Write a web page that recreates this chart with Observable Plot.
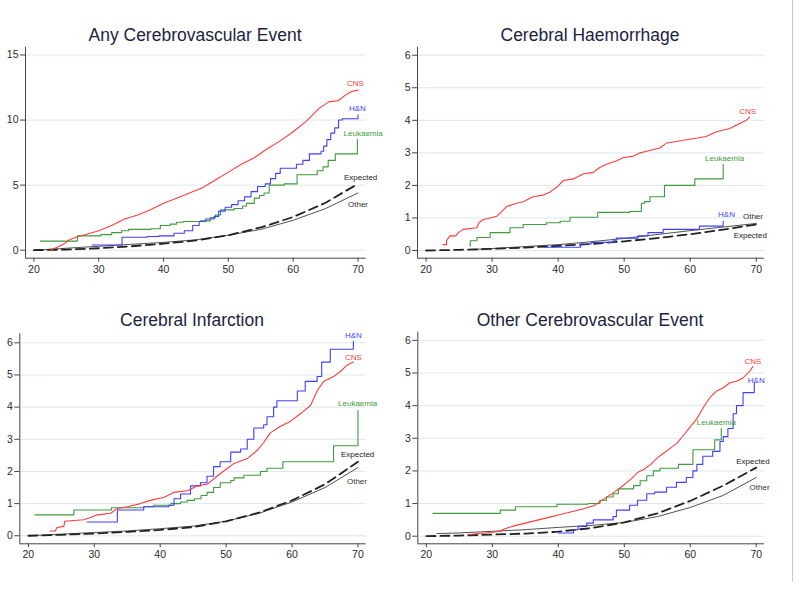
<!DOCTYPE html>
<html>
<head>
<meta charset="utf-8">
<script src="https://cdn.jsdelivr.net/npm/d3@7"></script>
<script src="https://cdn.jsdelivr.net/npm/@observablehq/plot@0.6"></script>
<style>
  html, body { margin: 0; padding: 0; background: #fff; }
  #wrap { position: relative; width: 800px; height: 589px; background: #fff; font-family: "Liberation Sans", Arial, sans-serif; }
  .ttl { position: absolute; width: 320px; text-align: center; font-size: 17.5px; line-height: 20px; color: #1c2340; white-space: nowrap; }
  .pnl { position: absolute; }
  #edge { position: absolute; left: 792px; top: 0; width: 1px; height: 582px; background: #c8c8c8; }
</style>
</head>
<body>
<div id="wrap">
  <div class="ttl" style="left:35px;top:25px">Any Cerebrovascular Event</div>
  <div class="ttl" style="left:430px;top:25px">Cerebral Haemorrhage</div>
  <div class="ttl" style="left:32px;top:310px">Cerebral Infarction</div>
  <div class="ttl" style="left:430px;top:310px">Other Cerebrovascular Event</div>
  <div class="pnl" id="p1" style="left:0px;top:40px"></div>
  <div class="pnl" id="p2" style="left:400px;top:40px"></div>
  <div class="pnl" id="p3" style="left:0px;top:325px"></div>
  <div class="pnl" id="p4" style="left:400px;top:325px"></div>
  <div id="edge"></div>
</div>
<script>
// ---------- data ----------
const seriesNames = ["CNS", "H&N", "Leukaemia", "Expected", "Other"];
const xTicks = [20, 30, 40, 50, 60, 70];
const yTicksAny = [0, 5, 10, 15];
const yTicksSub = [0, 1, 2, 3, 4, 5, 6];

// Any Cerebrovascular Event
const anyCNS = [[22.5,0],[23.5,0.2],[24.5,0.45],[25.5,0.8],[26.5,1.0],[28,1.2],[30,1.5],[32,1.9],[34,2.4],[36,2.7],[38,3.1],[40,3.6],[42,4.0],[44,4.4],[46,4.8],[48,5.4],[50,6.0],[52,6.6],[54,7.1],[56,7.8],[58,8.4],[60,9.1],[62,9.9],[64,10.9],[65.5,11.4],[67,11.5],[68,11.9],[69,12.2],[70,12.3]];
const anyHN = [[29,0.4],[33.6,1.0],[37.5,1.05],[39.3,1.1],[41.6,1.3],[43.2,1.5],[44.5,1.9],[45.5,2.2],[46.5,2.4],[47.8,2.6],[48.5,3.0],[49.5,3.3],[50.5,3.5],[51.5,3.8],[52.5,4.1],[53.5,4.5],[54.5,4.9],[55.7,5.1],[56.5,5.5],[57.3,5.9],[58,6.3],[60.5,6.6],[61.5,6.9],[62.5,7.4],[64.3,7.6],[64.7,8.0],[65.2,8.5],[65.8,9.0],[66.4,9.4],[67,10.0],[67.6,10.1],[69.9,10.1],[70,10.4]];
const anyLeuk = [[21,0.7],[26.7,1.1],[30.3,1.2],[32,1.35],[33.5,1.5],[34.6,1.6],[38,1.65],[39.5,1.9],[41,2.0],[42,2.15],[43,2.2],[45.7,2.25],[47.2,2.5],[48,2.7],[48.8,3.1],[50.9,3.2],[52.2,3.4],[52.8,3.6],[54,4.0],[54.8,4.2],[55.5,4.4],[56.3,5.0],[58.6,5.1],[60.6,5.8],[63.7,6.1],[64.6,6.4],[65.4,6.9],[66.5,7.4],[69.9,8.5]];
const anyExp = [[20,0],[25,0.05],[30,0.15],[35,0.3],[40,0.5],[45,0.75],[50,1.15],[55,1.75],[60,2.55],[65,3.65],[70,5.1]];
const anyOther = [[20,0],[25,0.15],[30,0.3],[35,0.45],[40,0.6],[45,0.8],[50,1.15],[55,1.6],[60,2.3],[65,3.2],[70,4.4]];
const anyLabels = [["CNS",69.6,12.8],["H&N",69.9,10.87],["Leukaemia",70.8,8.95],["Expected",70.4,5.56],["Other",70,3.49]];

// Cerebral Haemorrhage
const haemCNS = [[22.6,0.18],[23.1,0.18],[23.1,0.3],[23.6,0.45],[24.5,0.45],[24.9,0.55],[25.6,0.65],[27.7,0.7],[28,0.85],[28.7,0.95],[29.7,1.0],[30.7,1.05],[31.2,1.15],[32.2,1.35],[33.7,1.45],[34.7,1.5],[36.2,1.65],[37.7,1.7],[38.8,1.8],[39.8,1.95],[40.8,2.15],[42.3,2.2],[43.8,2.35],[45.3,2.4],[46.3,2.55],[47.3,2.65],[48.8,2.75],[49.8,2.85],[51.4,2.9],[52.4,3.0],[53.4,3.05],[55.4,3.15],[56.4,3.3],[57.9,3.35],[59.4,3.4],[60.9,3.45],[62.4,3.5],[64,3.65],[66,3.75],[67.5,3.9],[68.5,4.0],[69,4.1]];
const haemHN = [[38,0.1],[43.4,0.2],[45,0.25],[48.3,0.3],[48.8,0.38],[52.1,0.45],[53.6,0.55],[55.9,0.65],[61.4,0.75],[65,0.9]];
const haemLeuk = [[26.6,0.15],[26.7,0.3],[27.7,0.4],[29.7,0.55],[32.7,0.7],[34.7,0.8],[38.2,0.85],[40.3,0.9],[41.8,1.02],[46,1.17],[50.8,1.2],[52.6,1.45],[53.1,1.5],[53.9,1.65],[56.1,2.0],[60.7,2.2],[65,2.65]];
const haemExp = [[20,0],[25,0.02],[30,0.05],[35,0.09],[40,0.14],[45,0.2],[50,0.28],[55,0.38],[60,0.5],[65,0.64],[70,0.8]];
const haemOther = [[26.5,0.03],[30,0.06],[35,0.12],[40,0.18],[45,0.27],[50,0.37],[55,0.49],[60,0.61],[65,0.72],[70,0.83]];
const haemLabels = [["CNS",68.7,4.28],["Leukaemia",65.2,2.82],["H&N",65.5,1.1],["Other",69.5,1.04],["Expected",69.1,0.46]];

// Cerebral Infarction
const infCNS = [[23.3,0.15],[24.1,0.15],[24.3,0.25],[25.4,0.3],[25.5,0.45],[28.4,0.5],[29.2,0.55],[30.5,0.65],[32.5,0.7],[33.5,0.85],[35,0.9],[37,1.0],[38.5,1.1],[40.6,1.2],[42.1,1.35],[44.1,1.4],[45.6,1.55],[47.1,1.6],[48.6,1.85],[50.2,2.1],[51.2,2.25],[53.2,2.4],[54.7,2.65],[55.7,2.9],[56.7,3.2],[58.2,3.4],[59.7,3.55],[61.3,3.8],[62.8,4.05],[63.8,4.5],[64.8,4.8],[66.3,4.95],[67.3,5.1],[68.3,5.3],[69.3,5.4]];
const infHN = [[28.9,0.43],[33.5,0.8],[37.5,0.9],[41.3,0.95],[42.1,1.15],[43.1,1.3],[44.6,1.55],[46.1,1.65],[47.1,1.85],[48.1,2.15],[49.1,2.3],[50.7,2.6],[52.2,2.7],[53.2,3.0],[54.2,3.35],[55.7,3.45],[56.2,3.7],[57.2,4.0],[57.7,4.2],[60.8,4.5],[62,4.8],[63.8,4.95],[64.5,5.4],[65.8,5.8],[69.3,6.05]];
const infLeuk = [[21,0.65],[26.9,0.8],[32.6,0.87],[37.5,0.9],[39,0.95],[41.6,1.0],[43.1,1.05],[44.1,1.1],[45.2,1.15],[46.2,1.25],[47.1,1.35],[48.1,1.5],[49.1,1.65],[50.7,1.72],[51.2,1.8],[52.7,1.88],[55.2,2.0],[56.2,2.1],[58.6,2.3],[66.3,2.8],[70,3.9]];
const infExp = [[20,0],[25,0.03],[30,0.07],[35,0.12],[40,0.18],[45,0.27],[50,0.45],[55,0.72],[60,1.1],[65,1.6],[70,2.3]];
const infOther = [[20,0],[25,0.05],[30,0.1],[35,0.15],[40,0.22],[45,0.3],[50,0.45],[55,0.7],[60,1.05],[65,1.5],[70,2.12]];
const infLabels = [["H&N",69.3,6.23],["CNS",69.3,5.55],["Leukaemia",69.95,4.1],["Expected",69.95,2.53],["Other",69.85,1.7]];

// Other Cerebrovascular Event
const othCNS = [[26.3,0.05],[29,0.1],[31.3,0.15],[31.5,0.2],[33,0.3],[35,0.4],[37,0.5],[39,0.6],[40,0.65],[42,0.75],[44,0.85],[45.5,0.95],[47,1.15],[48.5,1.35],[49.5,1.5],[51,1.75],[52,1.95],[53,2.05],[54,2.2],[55,2.4],[56,2.55],[57,2.7],[58,2.85],[59,3.1],[60,3.35],[61,3.6],[62,3.95],[63,4.25],[64,4.45],[65,4.55],[66,4.7],[67,4.75],[68,4.85],[69,5.05],[69.5,5.2]];
const othHN = [[40,0.1],[42.3,0.2],[43,0.3],[44.3,0.4],[45.3,0.5],[48.3,0.6],[48.8,0.8],[50.8,0.95],[52,1.1],[53.4,1.3],[54.6,1.35],[56.4,1.5],[57.9,1.65],[59.4,1.8],[60.4,2.0],[61,2.2],[61.9,2.45],[63.4,2.6],[64.5,2.9],[65,3.05],[65.7,3.3],[66.5,3.75],[67,4.0],[68,4.4],[69.7,4.7]];
const othLeuk = [[21,0.7],[31.2,0.8],[33.5,0.9],[39.8,0.98],[44.5,1.0],[46.3,1.1],[47.3,1.2],[48.3,1.3],[49.1,1.45],[51.4,1.55],[52.4,1.7],[53.4,1.85],[54.4,2.0],[55.4,2.08],[58.2,2.2],[60.4,2.65],[63.7,2.95],[64.7,3.3]];
const othExp = [[20,0],[25,0.02],[30,0.05],[35,0.08],[40,0.14],[45,0.25],[50,0.42],[55,0.7],[60,1.08],[65,1.55],[70,2.1]];
const othOther = [[21.6,0.08],[25,0.1],[30,0.15],[35,0.2],[40,0.27],[45,0.33],[50,0.42],[55,0.6],[60,0.88],[65,1.25],[70,1.8]];
const othLabels = [["CNS",69.5,5.36],["H&N",70,4.78],["Leukaemia",63.95,3.47],["Expected",69.5,2.3],["Other",70.5,1.49]];

// ---------- styles ----------
const colors = {"CNS": "#ff3b3b", "H&N": "#3f3fff", "Leukaemia": "#3e9b3e", "Expected": "#222222", "Other": "#333333"};
const FONT = '"Liberation Sans", Arial, sans-serif';
const X_DOMAIN = [18.7, 71.25];

function panel(id, cfg) {
  const {width, height, mL, mR, mT, mB, yDomain, yTicks, cns, hn, leuk, exp, other, labels} = cfg;
  const X = d => d[0], Y = d => d[1];
  const chart = Plot.plot({
    width, height,
    marginLeft: mL, marginRight: mR, marginTop: mT, marginBottom: mB,
    x: {domain: X_DOMAIN},
    y: {domain: yDomain},
    style: {fontFamily: FONT, fontSize: "10.5px", color: "#2a2a2a", background: "transparent", overflow: "visible"},
    marks: [
      Plot.gridY(yTicks, {stroke: "#dce8ee", strokeOpacity: 1, strokeWidth: 1}),
      Plot.ruleX([X_DOMAIN[0]], {stroke: "#444", strokeWidth: 1}),
      Plot.ruleY([yDomain[0]], {stroke: "#444", strokeWidth: 1}),
      Plot.axisY(yTicks, {tickSize: 5, tickPadding: 2, stroke: "#444", fontSize: 10.5, label: null, tickFormat: d => String(d)}),
      Plot.axisX(xTicks, {tickSize: 4, tickPadding: 3, stroke: "#444", fontSize: 10.5, label: null, tickFormat: d => String(d)}),
      Plot.line(other, {x: X, y: Y, stroke: colors["Other"], strokeWidth: 1, strokeOpacity: 0.85}),
      Plot.line(exp, {x: X, y: Y, stroke: colors["Expected"], strokeWidth: 1.8, strokeDasharray: "9,5"}),
      Plot.line(leuk, {x: X, y: Y, stroke: colors["Leukaemia"], strokeWidth: 1.1, curve: "step-after"}),
      Plot.line(hn, {x: X, y: Y, stroke: colors["H&N"], strokeWidth: 1.1, curve: "step-after"}),
      Plot.line(cns, {x: X, y: Y, stroke: colors["CNS"], strokeWidth: 1.1}),
      Plot.text(labels, {x: d => d[1], y: d => d[2], text: d => d[0], fill: d => colors[d[0]], fontSize: 8, textAnchor: "middle", fontFamily: FONT})
    ]
  });
  document.getElementById(id).appendChild(chart);
}

panel("p1", {width: 380, height: 240, mL: 25, mR: 14.4, mT: 6.7, mB: 22.3, yDomain: [-0.615, 15.6], yTicks: yTicksAny,
  cns: anyCNS, hn: anyHN, leuk: anyLeuk, exp: anyExp, other: anyOther, labels: anyLabels});
panel("p2", {width: 380, height: 240, mL: 17, mR: 16, mT: 6.7, mB: 22.3, yDomain: [-0.237, 6.246], yTicks: yTicksSub,
  cns: haemCNS, hn: haemHN, leuk: haemLeuk, exp: haemExp, other: haemOther, labels: haemLabels});
panel("p3", {width: 380, height: 240, mL: 19.3, mR: 14.3, mT: 8.3, mB: 21.7, yDomain: [-0.25, 6.28], yTicks: yTicksSub,
  cns: infCNS, hn: infHN, leuk: infLeuk, exp: infExp, other: infOther, labels: infLabels});
panel("p4", {width: 380, height: 240, mL: 17.3, mR: 16, mT: 6.7, mB: 21.7, yDomain: [-0.233, 6.25], yTicks: yTicksSub,
  cns: othCNS, hn: othHN, leuk: othLeuk, exp: othExp, other: othOther, labels: othLabels});
</script>
</body>
</html>
